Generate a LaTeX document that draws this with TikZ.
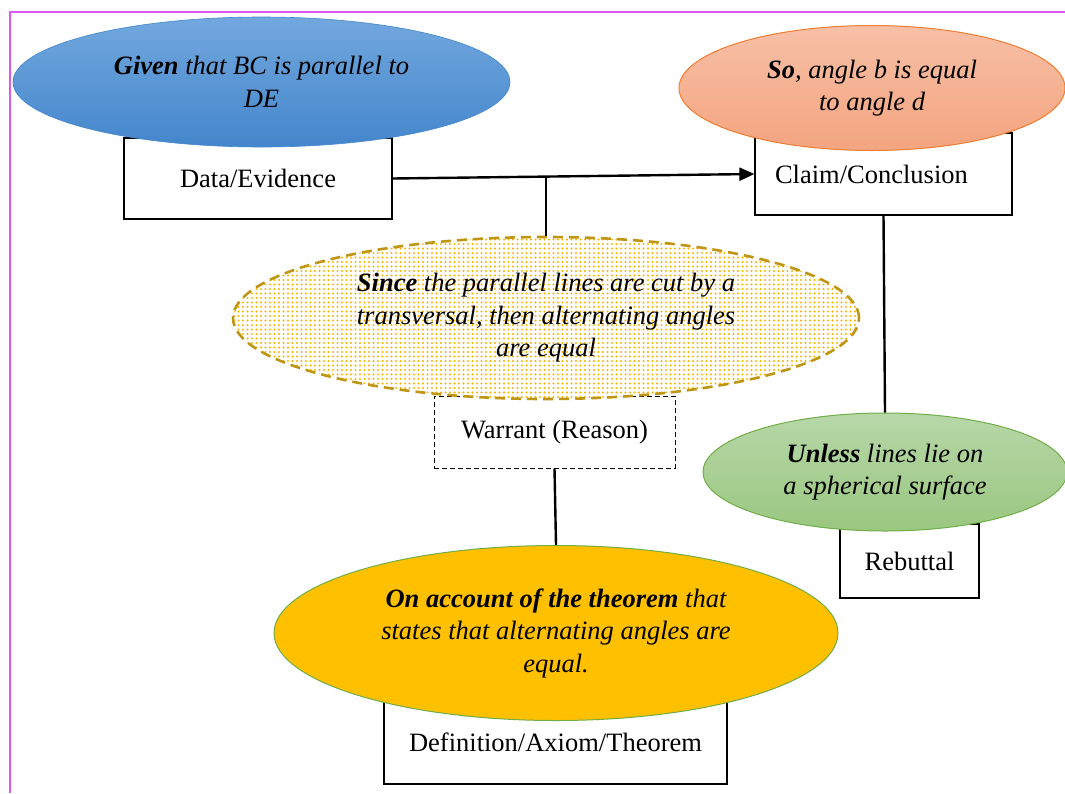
\documentclass[tikz,border=0pt]{standalone}
\usepackage{fontspec}
\setmainfont{Liberation Serif}
\usetikzlibrary{shapes.geometric,arrows.meta,patterns.meta,calc}

\definecolor{framemag}{RGB}{222,88,240}
\definecolor{bluetop}{RGB}{114,168,222}
\definecolor{bluebot}{RGB}{68,134,204}
\definecolor{orangetop}{RGB}{247,192,166}
\definecolor{orangebot}{RGB}{244,164,128}
\definecolor{orangeedge}{RGB}{237,125,49}
\definecolor{greentop}{RGB}{183,215,168}
\definecolor{greenbot}{RGB}{154,199,128}
\definecolor{greenedge}{RGB}{112,173,71}
\definecolor{gold}{RGB}{255,192,0}
\definecolor{dotgold}{RGB}{250,180,0}
\definecolor{darkgold}{RGB}{191,150,20}

\begin{document}
\begin{tikzpicture}[x=1pt,y=-1pt,
  txt/.style={font=\fontsize{26.5}{32.5}\selectfont},
  box/.style={txt,draw=black,line width=1.2pt,fill=white,inner sep=0pt,align=center},
  bubble/.style={ellipse,inner sep=0pt,align=center,
    font=\fontsize{26.5}{32.5}\selectfont\itshape},
  link/.style={draw=black,line width=2.4pt}
]
\useasboundingbox (0,0) rectangle (1065,793);

% page frame
\draw[framemag,line width=2pt] (10,793) -- (10,12) -- (1066,12);

% labelled boxes
\node[box,minimum width=268pt,minimum height=81pt] (data) at (258,178.5) {Data/Evidence};
\node[box,minimum width=257pt,minimum height=82pt,text width=217pt,inner xsep=20pt,align=left] (claim) at (883.5,174) {Claim/Conclusion};
\node[box,dashed,line width=1pt,dash pattern=on 5pt off 3pt,minimum width=241pt,minimum height=72pt] (warrant) at (554.5,432) {Warrant (Reason)};
\node[box,minimum width=139pt,minimum height=74pt] (rebuttal) at (909.5,561) {Rebuttal};
\node[box,minimum width=343pt,minimum height=84pt] (definition) at (555.5,742) {Definition/Axiom/Theorem};

% statement bubbles
\node[bubble,minimum width=497pt,minimum height=130pt,top color=bluetop,bottom color=bluebot,draw=bluebot,line width=0.6pt] (given) at (261.5,82)
  {\textbf{Given} that BC is parallel to\\ DE};
\node[bubble,minimum width=386pt,minimum height=125pt,top color=orangetop,bottom color=orangebot,draw=orangeedge,line width=1pt] (so) at (872,88)
  {\textbf{So}, angle b is equal\\ to angle d};
\node[bubble,minimum width=626pt,minimum height=162pt,fill=white] (sincebg) at (546,318) {};
\node[bubble,minimum width=626pt,minimum height=162pt,pattern={Dots[distance=4.5pt,radius=1.15pt]},pattern color=dotgold,draw=darkgold,line width=2.6pt,dash pattern=on 10pt off 6pt] (since) at (546,318)
  {\textbf{Since} the parallel lines are cut by a\\ transversal, then alternating angles\\ are equal};
\node[bubble,minimum width=364pt,minimum height=118pt,top color=greentop,bottom color=greenbot,draw=greenedge,line width=1pt] (unless) at (885,472)
  {\textbf{Unless} lines lie on\\ a spherical surface};
\node[bubble,minimum width=564pt,minimum height=175pt,fill=gold,draw=greenedge,line width=1pt] (theorem) at (556,633)
  {\textbf{On account of the theorem} that\\ states that alternating angles are\\ equal.};

% connectors
\draw[link,-{Triangle[length=15pt,width=13pt]}] (data.east) -- (claim.west);
\coordinate (junc) at ($(data.east)!0.427!(claim.west)$);
\draw[link] (since.north) -- (since.north |- junc);
\draw[link] (warrant.south) -- (theorem.north);
\draw[link] (claim.south) -- (unless.north);
\end{tikzpicture}
\end{document}
